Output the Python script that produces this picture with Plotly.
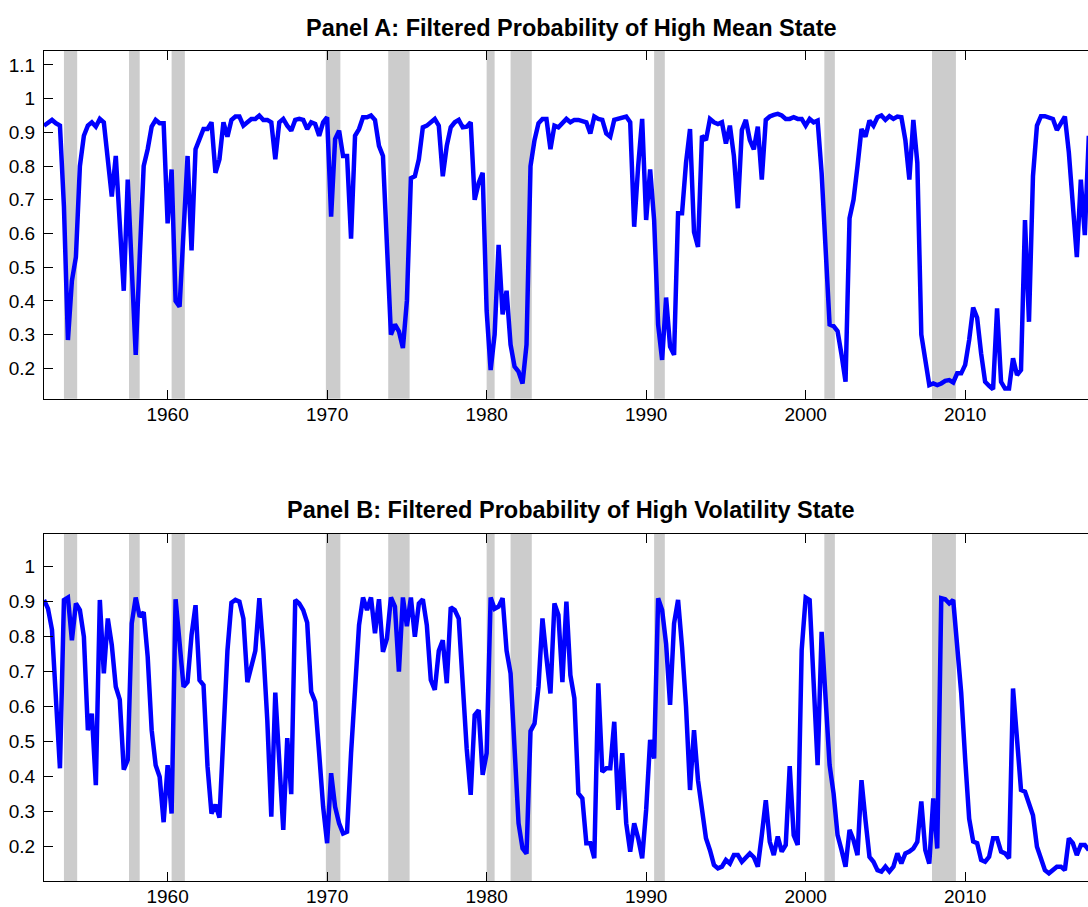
import plotly.graph_objects as go

# Quarterly observations, 1952Q2 onward (decimal year = year + (quarter-1)/4)
start_year = 1952.25
n_obs = 263
dates = [start_year + i / 4 for i in range(n_obs)]

high_mean = [
    0.92, 0.93, 0.937, 0.927, 0.92, 0.68, 0.284, 0.46, 0.53, 0.80,
    0.89, 0.92, 0.93, 0.917, 0.94, 0.93, 0.82, 0.71, 0.83, 0.63,
    0.43, 0.76, 0.50, 0.24, 0.53, 0.80, 0.85, 0.917, 0.937, 0.927,
    0.927, 0.63, 0.79, 0.40, 0.383, 0.60, 0.83, 0.55, 0.85, 0.88,
    0.91, 0.91, 0.93, 0.78, 0.82, 0.93, 0.887, 0.937, 0.947, 0.947,
    0.92, 0.93, 0.94, 0.94, 0.95, 0.937, 0.937, 0.93, 0.82, 0.93,
    0.94, 0.92, 0.905, 0.937, 0.94, 0.937, 0.91, 0.93, 0.925, 0.89,
    0.93, 0.945, 0.65, 0.88, 0.905, 0.83, 0.83, 0.585, 0.89, 0.91,
    0.945, 0.945, 0.95, 0.937, 0.86, 0.83, 0.55, 0.30, 0.33, 0.31,
    0.26, 0.40, 0.764, 0.77, 0.82, 0.915, 0.92, 0.93, 0.94, 0.92,
    0.77, 0.86, 0.915, 0.93, 0.937, 0.915, 0.917, 0.93, 0.70, 0.75,
    0.78, 0.37, 0.195, 0.30, 0.566, 0.36, 0.43, 0.27, 0.205, 0.19,
    0.155, 0.27, 0.80, 0.877, 0.927, 0.94, 0.94, 0.85, 0.92, 0.915,
    0.93, 0.94, 0.93, 0.937, 0.937, 0.933, 0.93, 0.897, 0.947, 0.94,
    0.937, 0.897, 0.887, 0.937, 0.94, 0.945, 0.947, 0.93, 0.62, 0.80,
    0.94, 0.64, 0.79, 0.64, 0.33, 0.225, 0.41, 0.264, 0.24, 0.66,
    0.66, 0.81, 0.91, 0.605, 0.56, 0.89, 0.877, 0.94, 0.93, 0.925,
    0.93, 0.867, 0.92, 0.83, 0.675, 0.907, 0.937, 0.877, 0.85, 0.917,
    0.76, 0.937, 0.947, 0.952, 0.955, 0.95, 0.94, 0.94, 0.945, 0.94,
    0.94, 0.92, 0.94, 0.93, 0.935, 0.78, 0.55, 0.33, 0.325, 0.31,
    0.24, 0.16, 0.645, 0.70, 0.80, 0.91, 0.887, 0.935, 0.92, 0.945,
    0.95, 0.937, 0.948, 0.94, 0.947, 0.945, 0.877, 0.76, 0.937, 0.81,
    0.30, 0.22, 0.15, 0.155, 0.15, 0.155, 0.163, 0.165, 0.158, 0.185,
    0.185, 0.21, 0.284, 0.38, 0.35, 0.244, 0.16, 0.148, 0.138, 0.378,
    0.16, 0.14, 0.14, 0.23, 0.18, 0.195, 0.64, 0.338, 0.77, 0.92,
    0.948, 0.948, 0.945, 0.94, 0.907, 0.925, 0.947, 0.84, 0.68, 0.53,
    0.76, 0.595, 0.89,
]

high_vol = [
    0.905, 0.88, 0.82, 0.60, 0.424, 0.905, 0.912, 0.79, 0.895, 0.876,
    0.80, 0.533, 0.58, 0.376, 0.905, 0.695, 0.852, 0.776, 0.657, 0.62,
    0.42, 0.448, 0.838, 0.912, 0.857, 0.87, 0.743, 0.533, 0.433, 0.40,
    0.27, 0.433, 0.295, 0.907, 0.795, 0.657, 0.67, 0.805, 0.89, 0.676,
    0.662, 0.43, 0.295, 0.32, 0.283, 0.56, 0.76, 0.897, 0.905, 0.90,
    0.852, 0.67, 0.714, 0.76, 0.91, 0.76, 0.56, 0.286, 0.64, 0.44,
    0.248, 0.51, 0.35, 0.905, 0.895, 0.876, 0.84, 0.643, 0.614, 0.467,
    0.314, 0.21, 0.41, 0.314, 0.267, 0.238, 0.243, 0.467, 0.64, 0.833,
    0.912, 0.876, 0.912, 0.81, 0.907, 0.757, 0.795, 0.912, 0.886, 0.70,
    0.912, 0.83, 0.912, 0.80, 0.895, 0.907, 0.833, 0.676, 0.648, 0.76,
    0.79, 0.667, 0.884, 0.876, 0.852, 0.638, 0.48, 0.348, 0.576, 0.59,
    0.405, 0.467, 0.912, 0.88, 0.886, 0.91, 0.76, 0.695, 0.467, 0.267,
    0.195, 0.18, 0.53, 0.552, 0.657, 0.852, 0.74, 0.638, 0.895, 0.862,
    0.67, 0.90, 0.69, 0.624, 0.352, 0.338, 0.21, 0.21, 0.167, 0.667,
    0.414, 0.424, 0.424, 0.557, 0.305, 0.467, 0.267, 0.186, 0.267, 0.224,
    0.167, 0.305, 0.505, 0.452, 0.91, 0.876, 0.78, 0.605, 0.838, 0.905,
    0.771, 0.60, 0.362, 0.533, 0.39, 0.314, 0.224, 0.19, 0.148, 0.138,
    0.143, 0.162, 0.152, 0.176, 0.176, 0.157, 0.17, 0.181, 0.17, 0.143,
    0.233, 0.333, 0.214, 0.176, 0.229, 0.186, 0.205, 0.43, 0.233, 0.205,
    0.762, 0.912, 0.905, 0.68, 0.433, 0.814, 0.62, 0.433, 0.352, 0.233,
    0.19, 0.143, 0.248, 0.219, 0.176, 0.39, 0.276, 0.171, 0.157, 0.133,
    0.129, 0.143, 0.129, 0.143, 0.181, 0.152, 0.181, 0.186, 0.195, 0.214,
    0.329, 0.19, 0.152, 0.338, 0.195, 0.91, 0.907, 0.895, 0.905, 0.757,
    0.64, 0.45, 0.28, 0.215, 0.21, 0.162, 0.157, 0.171, 0.224, 0.224,
    0.186, 0.181, 0.167, 0.652, 0.514, 0.362, 0.357, 0.324, 0.29, 0.20,
    0.167, 0.133, 0.124, 0.133, 0.143, 0.143, 0.133, 0.224, 0.21, 0.176,
    0.205, 0.205, 0.19,
]

# NBER recessions (decimal years, monthly peak to trough)
rec_start = [1953.50, 1957.58, 1960.25, 1969.92, 1973.83, 1980.00, 1981.50, 1990.50, 2001.17, 2007.92]
rec_end = [1954.33, 1958.25, 1961.08, 1970.83, 1975.17, 1980.50, 1982.83, 1991.17, 2001.83, 2009.42]

year_ticks = [1960, 1970, 1980, 1990, 2000, 2010]
a_ticks = [0.2, 0.3, 0.4, 0.5, 0.6, 0.7, 0.8, 0.9, 1.0, 1.1]
a_labels = ["0.2", "0.3", "0.4", "0.5", "0.6", "0.7", "0.8", "0.9", "1", "1.1"]
b_ticks = [0.2, 0.3, 0.4, 0.5, 0.6, 0.7, 0.8, 0.9, 1.0]
b_labels = ["0.2", "0.3", "0.4", "0.5", "0.6", "0.7", "0.8", "0.9", "1"]

title_a = "Panel A: Filtered Probability of High Mean State"
title_b = "Panel B: Filtered Probability of High Volatility State"

W, H = 1088, 907
FONT = "Liberation Sans, Arial, Helvetica, sans-serif"
BLUE = "#0000FF"
GRAY = "#CCCCCC"

fig = go.Figure()
fig.add_trace(go.Scatter(x=dates, y=high_mean, mode="lines",
                         line=dict(color=BLUE, width=4.5), xaxis="x", yaxis="y",
                         showlegend=False, hoverinfo="skip"))
fig.add_trace(go.Scatter(x=dates, y=high_vol, mode="lines",
                         line=dict(color=BLUE, width=4.5), xaxis="x2", yaxis="y2",
                         showlegend=False, hoverinfo="skip"))

shapes = []
for s, e in zip(rec_start, rec_end):
    for xr, yr in (("x", "y domain"), ("x2", "y2 domain")):
        shapes.append(dict(type="rect", xref=xr, yref=yr, x0=s, x1=e, y0=0, y1=1,
                           fillcolor=GRAY, line=dict(width=0), layer="below"))

x_range = [1952.25, 2017.70]
# Pixel geometry of the two panels
a_top, a_bot = 51, 398.7
b_top, b_bot = 534, 881

def ydom(top, bot):
    return [(H - bot) / H, (H - top) / H]

common_x = dict(range=x_range, tickvals=year_ticks, ticks="inside", ticklen=9,
                tickcolor="black", showline=True, linecolor="black", linewidth=1.2,
                mirror="ticks", showgrid=False, zeroline=False,
                tickfont=dict(family=FONT, size=19, color="black"),
                automargin=False, ticklabelstandoff=-2)
common_y = dict(ticks="inside", ticklen=9, tickcolor="black", showline=True,
                linecolor="black", linewidth=1.2, mirror=False, showgrid=False,
                zeroline=False, tickfont=dict(family=FONT, size=19, color="black"),
                automargin=False, ticklabelstandoff=4)

fig.update_layout(
    width=W, height=H,
    margin=dict(l=44, r=0, t=0, b=0),
    paper_bgcolor="white", plot_bgcolor="white",
    xaxis=dict(domain=[0, 1], anchor="y", **common_x),
    yaxis=dict(domain=ydom(a_top, a_bot), anchor="x", range=[0.1098, 1.1415],
               tickvals=a_ticks, ticktext=a_labels, **common_y),
    xaxis2=dict(domain=[0, 1], anchor="y2", **common_x),
    yaxis2=dict(domain=ydom(b_top, b_bot), anchor="x2", range=[0.102, 1.0934],
                tickvals=b_ticks, ticktext=b_labels, **common_y),
    shapes=shapes,
    annotations=[
        dict(text="<b>" + title_a + "</b>", xref="paper", yref="paper",
             x=(571 - 44) / (W - 44), y=(H - 28) / H, xanchor="center", yanchor="middle",
             showarrow=False, font=dict(family=FONT, size=23.5, color="black")),
        dict(text="<b>" + title_b + "</b>", xref="paper", yref="paper",
             x=(571 - 44) / (W - 44), y=(H - 510) / H, xanchor="center", yanchor="middle",
             showarrow=False, font=dict(family=FONT, size=23.5, color="black")),
    ],
)

fig.write_html("out.html", config={"displayModeBar": False},
               post_script="document.body.style.margin='0';document.body.style.overflow='hidden';")
